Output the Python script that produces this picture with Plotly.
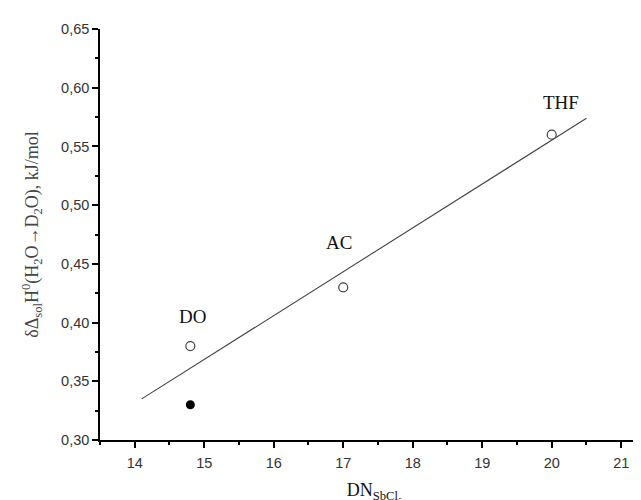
import plotly.graph_objects as go

# Data
solvents = ["DO", "AC", "THF"]
dn_values = [14.8, 17.0, 20.0]
dh_values = [0.38, 0.43, 0.56]
filled_x = [14.8]
filled_y = [0.33]
fit_x = [14.1, 20.5]
fit_y = [0.335, 0.574]
label_x = [14.83, 16.94, 20.13]
label_y = [0.405, 0.468, 0.587]

fig = go.Figure()
fig.add_trace(go.Scatter(x=fit_x, y=fit_y, mode="lines",
                         line=dict(color="#444444", width=1.1), showlegend=False))
fig.add_trace(go.Scatter(x=dn_values, y=dh_values, mode="markers",
                         marker=dict(symbol="circle-open", size=9,
                                     color="#444444", line=dict(width=1.2)),
                         showlegend=False))
fig.add_trace(go.Scatter(x=filled_x, y=filled_y, mode="markers",
                         marker=dict(symbol="circle", size=9, color="black"),
                         showlegend=False))
for name, lx, ly in zip(solvents, label_x, label_y):
    fig.add_annotation(x=lx, y=ly, text=name, showarrow=False,
                       font=dict(family="Liberation Serif", size=19, color="#111111"))

tick_font = dict(family="Liberation Sans", size=14.5, color="#333333")
fig.update_layout(
    width=641, height=500,
    margin=dict(l=92, r=0, t=21, b=68),
    paper_bgcolor="white", plot_bgcolor="white",
    separators=",.",
    xaxis=dict(range=[13.5, 21.4], dtick=1, tick0=14,
               showgrid=False, zeroline=False,
               showline=True, linecolor="black", linewidth=1.5,
               ticks="outside", ticklen=6, tickwidth=1.5, tickcolor="black",
               minor=dict(ticks="outside", ticklen=3, dtick=0.5, tickcolor="black", tickwidth=1.5),
               tickfont=tick_font, ticklabelstandoff=3,
               title=dict(text="DN<sub>SbCl₅</sub>", standoff=13,
                          font=dict(family="Liberation Serif", size=18, color="#111111"))),
    yaxis=dict(range=[0.30, 0.65], dtick=0.05, tick0=0.30, tickformat=".2f",
               showgrid=False, zeroline=False,
               showline=True, linecolor="black", linewidth=1.5,
               ticks="outside", ticklen=6, tickwidth=1.5, tickcolor="black",
               minor=dict(ticks="outside", ticklen=3, dtick=0.025, tickcolor="black", tickwidth=1.5),
               tickfont=tick_font,
               title=dict(text="δΔ<sub>sol</sub>H<sup>0</sup>(H<sub>2</sub>O<b>→</b>D<sub>2</sub>O), kJ/mol",
                          standoff=18,
                          font=dict(family="Liberation Serif", size=18, color="#444444"))),
)

fig.write_html("out.html")
